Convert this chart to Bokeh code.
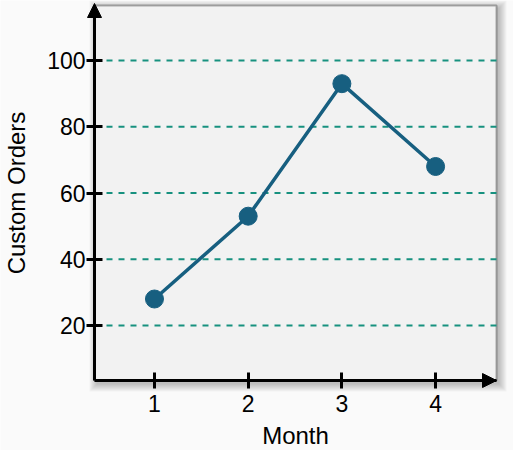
from bokeh.plotting import figure
from bokeh.models import Arrow, NormalHead, FixedTicker, Range1d, BoxAnnotation
from bokeh.embed import file_html
from bokeh.resources import INLINE

months = [1, 2, 3, 4]
orders = [28, 53, 93, 68]
y_ticks = [20, 40, 60, 80, 100]

# visible axes box (data units)
box_x = (0.36, 4.65)
box_y = (3.4, 116.6)

FONT = "Liberation Sans"
LINE_COLOR = "#175f80"
GRID_COLOR = "#17917f"

# the frame covers the whole canvas; the box sits at these pixels
W, H = 513, 450
box_left_px, box_right_px = 94, 496
box_top_px, box_bottom_px = 5, 380

sx = (box_right_px - box_left_px) / (box_x[1] - box_x[0])
sy = (box_bottom_px - box_top_px) / (box_y[1] - box_y[0])

x_range = Range1d(box_x[0] - box_left_px / sx, box_x[1] + (W - box_right_px) / sx)
y_range = Range1d(box_y[0] - (H - box_bottom_px) / sy, box_y[1] + box_top_px / sy)

p = figure(width=W, height=H, x_range=x_range, y_range=y_range,
           output_backend="svg", toolbar_location=None,
           min_border_left=0, min_border_right=0, min_border_top=0, min_border_bottom=0,
           x_axis_label="Month", y_axis_label="Custom Orders")

p.background_fill_color = "#fafafa"
p.border_fill_color = "#fafafa"
p.outline_line_color = None
p.grid.visible = False

# soft drop shadow behind the box
for k in range(8):
    p.add_layout(BoxAnnotation(left=box_x[0] + (2 - k) / sx, right=box_x[1] + (3 + k) / sx,
                               bottom=box_y[0] - (4 + k) / sy, top=box_y[1] - (2 - k) / sy,
                               fill_color="black", fill_alpha=0.03, line_color=None,
                               level="underlay"))
p.add_layout(BoxAnnotation(left=box_x[0], right=box_x[1], bottom=box_y[0], top=box_y[1],
                           fill_color="#f2f2f2", fill_alpha=1, line_color="black",
                           line_width=2, level="underlay"))

# dashed horizontal grid inside the box
p.segment(x0=[box_x[0]] * len(y_ticks), x1=[box_x[1]] * len(y_ticks), y0=y_ticks, y1=y_ticks,
          line_color=GRID_COLOR, line_width=2, line_dash="6 6")

for ax in (p.xaxis, p.yaxis):
    ax.axis_line_width = 3
    ax.axis_line_color = "black"
    ax.major_tick_line_width = 3
    ax.major_tick_in = 8
    ax.major_tick_out = 8
    ax.minor_tick_line_color = None
    ax.major_label_text_font = FONT
    ax.major_label_text_font_size = "23px"
    ax.major_label_text_color = "black"
    ax.axis_label_text_font = FONT
    ax.axis_label_text_font_size = "24px"
    ax.axis_label_text_font_style = "normal"
    ax.axis_label_text_color = "black"

p.xaxis.fixed_location = box_y[0]
p.yaxis.fixed_location = box_x[0]
p.xaxis.bounds = box_x
p.yaxis.bounds = box_y
p.xaxis.ticker = FixedTicker(ticks=months)
p.yaxis.ticker = FixedTicker(ticks=y_ticks)
p.xaxis.major_label_standoff = 6
p.yaxis.major_label_standoff = 1
p.xaxis.axis_label_standoff = 7
p.yaxis.axis_label_standoff = 14

p.line(months, orders, line_color=LINE_COLOR, line_width=3.5)
p.scatter(months, orders, size=18, fill_color=LINE_COLOR, line_color=LINE_COLOR)

# arrow heads at the ends of the axes
for xe, ye in [(box_x[0], box_y[1] + 2 / sy), (box_x[1], box_y[0])]:
    p.add_layout(Arrow(x_start=box_x[0], y_start=box_y[0], x_end=xe, y_end=ye,
                       line_alpha=0,
                       end=NormalHead(size=14, fill_color="black", line_color="black")))

open("out.html", "w").write(file_html(p, INLINE))
